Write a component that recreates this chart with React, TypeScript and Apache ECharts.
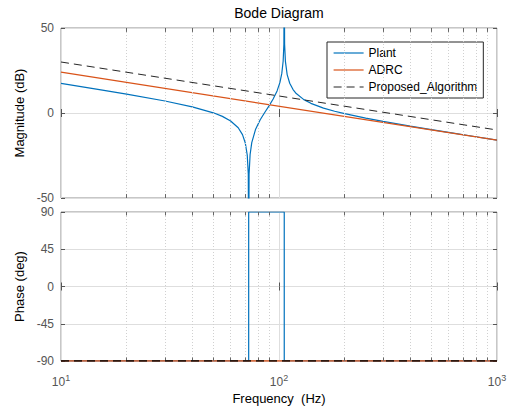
import React, { useEffect, useRef } from "react";
import * as echarts from "echarts";

// Frequencies (Hz) and magnitudes (dB)
const PLANT_FREQ = [10, 15, 20, 30, 40, 50, 55, 60, 65, 68, 70, 71.5, 72.3, 72.6, 72.9, 73.7, 75, 78, 82, 86, 90, 94, 98, 101, 103, 104.5, 105.3, 105.7, 106.1, 107, 109, 112, 116, 120, 130, 140, 160, 180, 200, 250, 300, 400, 500, 600, 800, 1000];
const PLANT_MAG = [17.4, 13.75, 11.09, 7.04, 3.63, 0.11, -2.0, -4.68, -8.7, -12.75, -17.46, -24.71, -35.8, -90, -36.0, -24.4, -17.4, -9.77, -4.0, 0.32, 4.2, 8.21, 13.0, 18.0, 23.3, 30.6, 40.4, 90, 40.4, 30.4, 22.6, 17.5, 13.8, 11.45, 7.87, 5.69, 2.9, 1.02, -0.4, -3.01, -4.91, -7.7, -9.77, -11.41, -13.98, -15.95];
const LINE_FREQ = [10, 1000];
const ADRC_MAG = [24, -16];
const PROPOSED_MAG = [30, -10];

const PLANT_PHASE_FREQ = [10, 72.6, 72.6, 105.7, 105.7, 1000];
const PLANT_PHASE = [-90, -90, 90, 90, -90, -90];
const ADRC_PHASE = [-90, -90];
const PROPOSED_PHASE = [-90, -90];

const MINOR_FREQS = [20, 30, 40, 50, 60, 70, 80, 90, 200, 300, 400, 500, 600, 700, 800, 900];
const SERIES_NAMES = ["Plant", "ADRC", "Proposed_Algorithm"];

const FONT = "Liberation Sans, Arial, Helvetica, sans-serif";
const C_PLANT = "#0072BD";
const C_ADRC = "#D95319";
const C_PROP = "#262626";

function zip(xs: number[], ys: number[]) {
  return xs.map((x, i) => [x, ys[i]]);
}

function minorGrid() {
  return {
    silent: true,
    symbol: ["none", "none"],
    label: { show: false },
    lineStyle: { type: [1, 2], color: "#d0d0d0", width: 1 },
    emphasis: { disabled: true },
    data: MINOR_FREQS.map((f) => ({ xAxis: f })),
  };
}

function minorTicks(yMin: number, yMax: number, len: number) {
  const data: any[] = [];
  MINOR_FREQS.forEach((f) => {
    data.push([{ coord: [f, yMin] }, { coord: [f, yMin + len] }]);
    data.push([{ coord: [f, yMax] }, { coord: [f, yMax - len] }]);
  });
  return {
    silent: true,
    symbol: ["none", "none"],
    label: { show: false },
    lineStyle: { type: "solid", color: "#666", width: 1 },
    emphasis: { disabled: true },
    data,
  };
}

export default function App() {
  const ref = useRef<HTMLDivElement>(null);
  useEffect(() => {
    if (!ref.current) return;
    const chart = echarts.init(ref.current, undefined, { renderer: "svg" });

    const tick = { show: true, inside: true, length: 4, lineStyle: { color: "#555" } };
    const logX = (gridIndex: number, showLabels: boolean, position: string) => ({
      type: "log",
      logBase: 10,
      gridIndex,
      position,
      min: 10,
      max: 1000,
      axisLine: { show: false },
      axisTick: tick,
      splitLine: { show: position === "bottom", lineStyle: { color: "#dedede", width: 1 } },
      axisLabel: {
        show: showLabels,
        margin: 12,
        formatter: (v: number) => {
          const e = Math.round(Math.log10(v));
          return `{b|10}{s|${e}}`;
        },
        rich: {
          b: { fontSize: 12, color: "#555", fontFamily: FONT },
          s: { fontSize: 9, color: "#555", fontFamily: FONT, padding: [0, 0, 9, 0] },
        },
      },
    });
    const valY = (gridIndex: number, min: number, max: number, interval: number, name: string, position: string) => ({
      type: "value",
      gridIndex,
      position,
      min,
      max,
      interval,
      name: position === "left" ? name : "",
      nameLocation: "middle",
      nameGap: 32,
      nameTextStyle: { fontSize: 13, color: "#000", fontFamily: FONT },
      axisLine: { show: false },
      axisTick: tick,
      splitLine: { show: position === "left", lineStyle: { color: "#dedede", width: 1 } },
      axisLabel: { show: position === "left", fontSize: 12, color: "#555", margin: 7, fontFamily: FONT },
    });

    const option: any = {
      animation: false,
      backgroundColor: "#fff",
      textStyle: { fontFamily: FONT },
      graphic: [
        {
          type: "text",
          x: 279,
          y: 13,
          style: {
            text: "Bode Diagram",
            fontSize: 14,
            fontFamily: FONT,
            fill: "#000",
            textAlign: "center",
            textVerticalAlign: "middle",
          },
        },
      ],
      legend: {
        data: SERIES_NAMES,
        orient: "vertical",
        left: 327,
        top: 42,
        padding: [5, 6, 5, 6],
        itemGap: 5,
        itemWidth: 30,
        itemHeight: 12,
        itemStyle: { opacity: 0 },
        lineStyle: { width: 1.2 },
        backgroundColor: "#fff",
        borderColor: "#262626",
        borderWidth: 1,
        borderRadius: 0,
        textStyle: { fontSize: 12, color: "#000", fontFamily: FONT },
      },
      grid: [
        { left: 61, top: 28, width: 436, height: 170, show: true, borderColor: "#8f8f8f", borderWidth: 1, backgroundColor: "#fff" },
        { left: 61, top: 212, width: 436, height: 149, show: true, borderColor: "#8f8f8f", borderWidth: 1, backgroundColor: "#fff" },
      ],
      xAxis: [
        logX(0, false, "bottom"),
        {
          ...logX(1, true, "bottom"),
          name: "Frequency  (Hz)",
          nameLocation: "middle",
          nameGap: 31,
          nameTextStyle: { fontSize: 13, color: "#000", fontFamily: FONT },
        },
        logX(0, false, "top"),
        logX(1, false, "top"),
      ],
      yAxis: [
        valY(0, -50, 50, 50, "Magnitude (dB)", "left"),
        valY(1, -90, 90, 45, "Phase (deg)", "left"),
        valY(0, -50, 50, 50, "", "right"),
        valY(1, -90, 90, 45, "", "right"),
      ],
      series: [
        {
          name: "Plant",
          type: "line",
          xAxisIndex: 0,
          yAxisIndex: 0,
          data: zip(PLANT_FREQ, PLANT_MAG),
          symbol: "none",
          lineStyle: { color: C_PLANT, width: 1.2 },
          itemStyle: { color: C_PLANT },
          markLine: minorGrid(),
          z: 3,
        },
        {
          name: "ADRC",
          type: "line",
          xAxisIndex: 0,
          yAxisIndex: 0,
          data: zip(LINE_FREQ, ADRC_MAG),
          symbol: "none",
          lineStyle: { color: C_ADRC, width: 1.2 },
          itemStyle: { color: C_ADRC },
          markLine: minorTicks(-50, 50, 2.3),
          z: 4,
        },
        {
          name: "Proposed_Algorithm",
          type: "line",
          xAxisIndex: 0,
          yAxisIndex: 0,
          data: zip(LINE_FREQ, PROPOSED_MAG),
          symbol: "none",
          lineStyle: { color: C_PROP, width: 1, type: [8, 5] },
          itemStyle: { color: C_PROP },
          z: 5,
        },
        {
          name: "Plant",
          type: "line",
          xAxisIndex: 1,
          yAxisIndex: 1,
          data: zip(PLANT_PHASE_FREQ, PLANT_PHASE),
          symbol: "none",
          lineStyle: { color: C_PLANT, width: 1.2 },
          itemStyle: { color: C_PLANT },
          markLine: minorGrid(),
          z: 3,
        },
        {
          name: "ADRC",
          type: "line",
          xAxisIndex: 1,
          yAxisIndex: 1,
          data: zip(LINE_FREQ, ADRC_PHASE),
          symbol: "none",
          lineStyle: { color: C_ADRC, width: 1.5 },
          itemStyle: { color: C_ADRC },
          markLine: minorTicks(-90, 90, 4.2),
          z: 4,
        },
        {
          name: "Proposed_Algorithm",
          type: "line",
          xAxisIndex: 1,
          yAxisIndex: 1,
          data: zip(LINE_FREQ, PROPOSED_PHASE),
          symbol: "none",
          lineStyle: { color: "#000", width: 1.3, type: [8, 5] },
          itemStyle: { color: C_PROP },
          z: 5,
        },
      ],
    };

    chart.setOption(option);
    return () => chart.dispose();
  }, []);

  return (
    <div
      ref={ref}
      style={{ position: "fixed", left: 0, top: 0, width: 515, height: 411, background: "#fff" }}
    />
  );
}
